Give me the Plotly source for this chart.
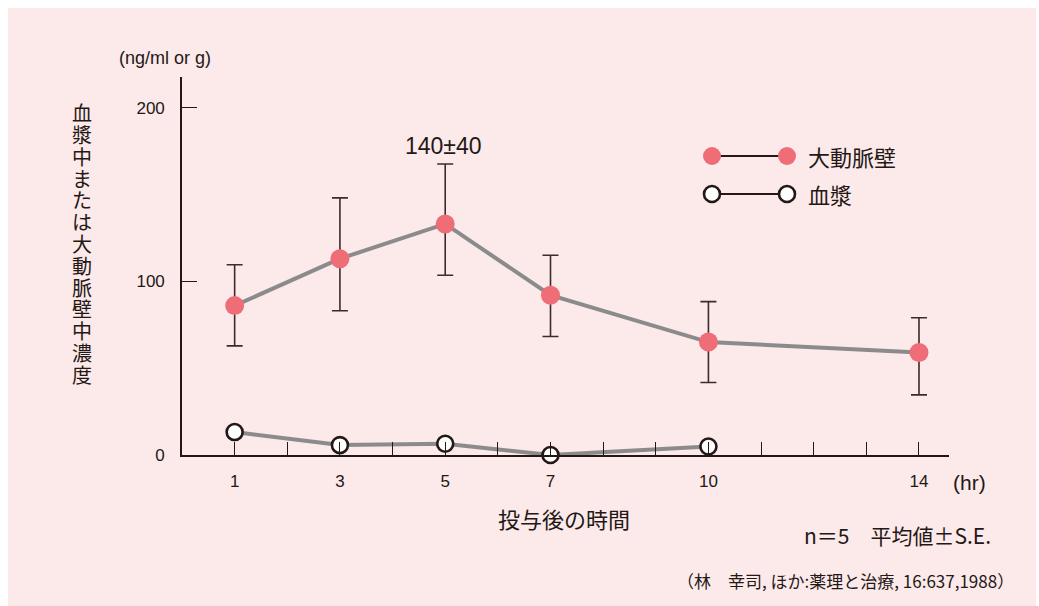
import plotly.graph_objects as go

# ---------------- data ----------------
aorta_hours = [1, 3, 5, 7, 10, 14]
aorta_mean = [86, 113, 133, 92, 65, 59]
aorta_se_up = [23.5, 35, 34.5, 23, 23.3, 20]
aorta_se_down = [23.2, 30, 29.5, 23.8, 23.3, 24.4]

plasma_hours = [1, 3, 5, 7, 10]
plasma_mean = [13.2, 5.7, 6.5, 0, 4.9]

x_tick_vals = list(range(1, 15))
x_tick_labeled = [1, 3, 5, 7, 10, 14]
y_tick_vals = [0, 100, 200]
y_tick_text = ["0", "100", "200"]

series_names = ["大動脈壁", "血漿"]
y_title = "血漿中または大動脈壁中濃度"
x_title = "投与後の時間"
unit_y = "(ng/ml or g)"
unit_x = "(hr)"
peak_note = "140±40"
stats_note = "n＝5　平均値±S.E."
source_note = "（林　幸司, ほか:薬理と治療, 16:637,1988）"

# ---------------- styling ----------------
W, H = 1039, 606
L, R, T, B = 182, 90, 77, 151
PW, PH = W - L - R, H - T - B
BG = "#fce9ea"
INK = "#231815"
PINK = "#ee6d77"
GRAY = "#8b8b8b"
ERR = "#3d2b2b"
NUM_FONT = "Liberation Sans, Arial, sans-serif"
JP_FONT = "Noto Sans CJK JP, sans-serif"


def px_x(px):
    return (px - L) / PW


def px_y(py):
    return (H - B - py) / PH


fig = go.Figure()

fig.add_trace(go.Scatter(
    x=aorta_hours, y=aorta_mean, mode="lines+markers",
    name=series_names[0],
    line=dict(color=GRAY, width=4),
    marker=dict(color=PINK, size=19, line=dict(width=0)),
    error_y=dict(type="data", symmetric=False, array=aorta_se_up,
                 arrayminus=aorta_se_down, color=ERR, thickness=1.6, width=8),
    cliponaxis=False, showlegend=False,
))

fig.add_trace(go.Scatter(
    x=plasma_hours, y=plasma_mean, mode="lines+markers",
    name=series_names[1],
    line=dict(color=GRAY, width=4),
    marker=dict(color="white", size=16, line=dict(color=INK, width=2.6)),
    cliponaxis=False, showlegend=False,
))

shapes = []
# pink panel
shapes.append(dict(type="rect", xref="paper", yref="paper",
                   x0=px_x(8), x1=px_x(1036), y0=px_y(606), y1=px_y(8),
                   fillcolor=BG, line=dict(width=0), layer="below"))

# custom legend
leg_rows = [(156, PINK, None), (194, "white", INK)]
for (ly, fill, edge), name in zip(leg_rows, series_names):
    shapes.append(dict(type="line", xref="paper", yref="paper",
                       x0=px_x(712), x1=px_x(787), y0=px_y(ly), y1=px_y(ly),
                       line=dict(color=INK, width=2)))
    r = 9 if edge is None else 8
    for cx in (712, 787):
        shapes.append(dict(type="circle", xref="paper", yref="paper",
                           xsizemode="pixel", ysizemode="pixel",
                           xanchor=px_x(cx), yanchor=px_y(ly),
                           x0=-r, x1=r, y0=-r, y1=r,
                           fillcolor=fill,
                           line=dict(color=edge if edge else fill, width=2.6 if edge else 0)))

annotations = []
for ly, name in zip((156, 194), series_names):
    annotations.append(dict(text=name, xref="paper", yref="paper",
                            x=px_x(806), y=px_y(ly), xanchor="left", yanchor="middle",
                            showarrow=False, font=dict(family=JP_FONT, size=22, color=INK)))

# vertical y title, one upright character per row (tight CJK column)
for i, ch in enumerate(y_title):
    annotations.append(dict(text=ch, xref="paper", yref="paper",
                            x=px_x(81.5), y=px_y(112.6 + 21.8 * i),
                            xanchor="center", yanchor="middle", showarrow=False,
                            font=dict(family=JP_FONT, size=20, color=INK)))

annotations += [
    dict(text=unit_y, xref="paper", yref="paper", x=px_x(165), y=px_y(58),
         xanchor="center", yanchor="middle", showarrow=False,
         font=dict(family=NUM_FONT, size=18, color=INK)),
    dict(text=unit_x, xref="paper", yref="paper", x=px_x(951), y=px_y(482),
         xanchor="left", yanchor="middle", showarrow=False,
         font=dict(family=NUM_FONT, size=21, color=INK)),
    dict(text=x_title, xref="paper", yref="paper", x=px_x(564), y=px_y(518),
         xanchor="center", yanchor="middle", showarrow=False,
         font=dict(family=JP_FONT, size=22, color=INK)),
    dict(text=peak_note, xref="paper", yref="paper", x=px_x(443), y=px_y(146),
         xanchor="center", yanchor="middle", showarrow=False,
         font=dict(family=NUM_FONT, size=23, color=INK)),
    dict(text=stats_note, xref="paper", yref="paper", x=px_x(993), y=px_y(535),
         xanchor="right", yanchor="middle", showarrow=False,
         font=dict(family=JP_FONT, size=21, color=INK)),
    dict(text=source_note, xref="paper", yref="paper", x=px_x(1016), y=px_y(580),
         xanchor="right", yanchor="middle", showarrow=False,
         font=dict(family=JP_FONT, size=17, color=INK)),
]

fig.update_layout(
    width=W, height=H,
    margin=dict(l=L, r=R, t=T, b=B, pad=0),
    paper_bgcolor="white", plot_bgcolor="rgba(0,0,0,0)",
    shapes=shapes, annotations=annotations,
    showlegend=False,
)

fig.update_xaxes(
    range=[0, 14.57], tickvals=x_tick_vals,
    ticktext=[str(v) if v in x_tick_labeled else "" for v in x_tick_vals],
    ticks="inside", ticklen=13, tickwidth=1.4, tickcolor=INK,
    showline=True, linecolor=INK, linewidth=1.6,
    showgrid=False, zeroline=False,
    tickfont=dict(family=NUM_FONT, size=17, color=INK),
    ticklabelstandoff=10,
)
fig.update_yaxes(
    range=[0, 217.6], tickvals=y_tick_vals, ticktext=y_tick_text,
    ticks="inside", ticklen=15, tickwidth=1.4, tickcolor=INK,
    showline=True, linecolor=INK, linewidth=1.6,
    showgrid=False, zeroline=False,
    tickfont=dict(family=NUM_FONT, size=17, color=INK),
    ticklabelstandoff=12,
)

fig.write_html("out.html")
